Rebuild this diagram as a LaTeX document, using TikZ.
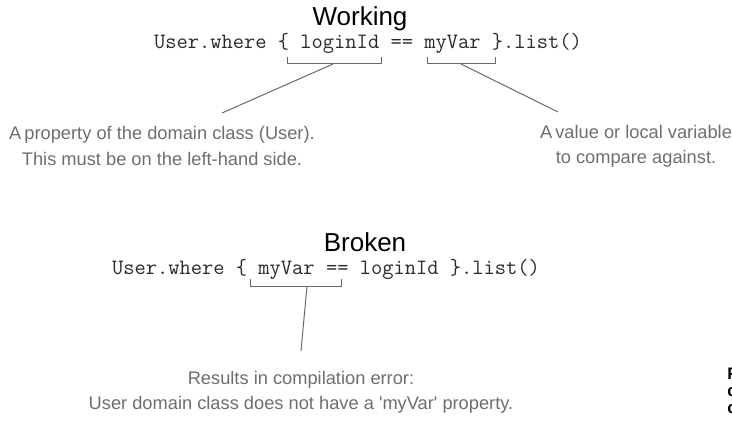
\documentclass[tikz,border=0pt]{standalone}
\usepackage{fontspec}
\setmainfont{Liberation Sans}
\newfontfamily\notefont{Liberation Sans}[Ligatures=TeXOff]
\definecolor{labelgrey}{HTML}{6E6E6E}
\definecolor{codegrey}{HTML}{2A2A2A}
\definecolor{linegrey}{HTML}{6A6A6A}
\begin{document}
\begin{tikzpicture}[x=0.75pt,y=-0.75pt,
  title/.style={font=\fontsize{19.5}{22}\selectfont, text=black, inner sep=0pt},
  code/.style={font=\ttfamily\fontsize{16.4}{19}\selectfont, text=codegrey, inner sep=0pt, anchor=base},
  note/.style={font=\notefont\fontsize{13.7}{18.8}\selectfont, text=labelgrey, align=center, inner sep=0pt},
  bracket/.style={draw=linegrey, line width=0.75pt},
  leader/.style={draw=linegrey, line width=0.75pt},
  cut/.style={font=\bfseries\fontsize{12.5}{13}\selectfont, text=black, anchor=base west, inner sep=0pt}]
\useasboundingbox (0,0) rectangle (732,442);
% Working
\node[title] (wtitle) at (360,19) {Working};
\node[code] (wcode) at (368,49) {User.where \{ loginId == myVar \}.list()};
\coordinate (b1l) at (287,57); \coordinate (b1r) at (381,57);
\coordinate (b2l) at (427,57); \coordinate (b2r) at (495,57);
\draw[bracket] (b1l) -- ++(0,7) coordinate (b1bl) -- (b1bl -| b1r) coordinate (b1br) -- (b1r);
\draw[bracket] (b2l) -- ++(0,7) coordinate (b2bl) -- (b2bl -| b2r) coordinate (b2br) -- (b2r);
\coordinate (l1s) at (333,64); \coordinate (l1e) at (222,113);
\coordinate (l2s) at (461,64); \coordinate (l2e) at (558,112);
\draw[leader] (l1s) -- (l1e);
\draw[leader] (l2s) -- (l2e);
\node[note] (n1) at (162,146) {A\,property of the domain class (User).\\This must be on the left-hand side.};
\node[note] (n2) at (636,146) {A\,value or local variable\\to compare against.};
% Broken
\node[title] (btitle) at (365,242) {Broken};
\node[code] (bcode) at (326,274) {User.where \{ myVar == loginId \}.list()};
\coordinate (b3l) at (250,279); \coordinate (b3r) at (341,279);
\draw[bracket] (b3l) -- ++(0,7) coordinate (b3bl) -- (b3bl -| b3r) coordinate (b3br) -- (b3r);
\coordinate (l3s) at (307,286); \coordinate (l3e) at (301,351);
\draw[leader] (l3s) -- (l3e);
\node[note] (n3) at (301,392) {Results in compilation error:\\User domain class does not have a 'myVar' property.};
% cut-off caption at the right edge
\node[cut] (c1) at (727,379) {F};
\node[cut] (c2) at (727,396) {c};
\node[cut] (c3) at (727,413) {c};
\end{tikzpicture}
\end{document}
